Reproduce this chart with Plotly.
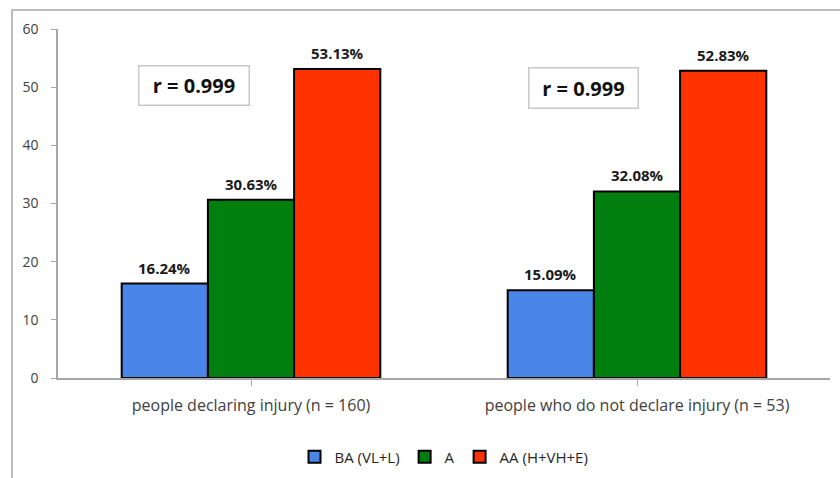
import plotly.graph_objects as go

categories = ["people declaring injury (n = 160)", "people who do not declare injury (n = 53)"]
series_names = ["BA (VL+L)", "A", "AA (H+VH+E)"]
ba_values = [16.24, 15.09]
a_values = [30.63, 32.08]
aa_values = [53.13, 52.83]
colors = ["#4A86E8", "#007F0E", "#FF3300"]
r_labels = ["r = 0.999", "r = 0.999"]

FONT = "Open Sans"
BARGAP = 0.33

fig = go.Figure()
all_vals = [ba_values, a_values, aa_values]
for name, vals, col in zip(series_names, all_vals, colors):
    fig.add_trace(go.Bar(
        name=name, x=list(range(len(categories))), y=vals,
        marker=dict(color=col, line=dict(color="black", width=2)),
    ))

# data labels placed through the axis scales (grouped bar offsets)
nser = len(all_vals)
bw = (1 - BARGAP) / nser
for s, vals in enumerate(all_vals):
    off = (s - (nser - 1) / 2) * bw
    for i, v in enumerate(vals):
        fig.add_annotation(x=i + off, y=v, xref="x", yref="y",
                           text="<b>%.2f%%</b>" % v, showarrow=False,
                           yanchor="middle", yshift=16,
                           font=dict(family=FONT, size=15, color="#1a1a1a"))

W, H = 840, 478
ml, mr, mt, mb = 58, 10, 29, 100
pw, ph = W - ml - mr, H - mt - mb

# outer chart border (top + left visible in reference)
fig.add_shape(type="rect", xref="paper", yref="paper",
              x0=(12 - ml) / pw, x1=(W + 20 - ml) / pw,
              y0=-(H + 20 - (H - mb)) / ph, y1=1 + (mt - 10) / ph,
              line=dict(color="#A6A6A6", width=1.5), layer="below")

# r boxes
box_pos = [(138, 250, 65, 106), (528, 639, 67, 109)]
for lab, (x0, x1, y0, y1) in zip(r_labels, box_pos):
    fig.add_annotation(xref="paper", yref="paper", xanchor="center", yanchor="middle",
                       x=((x0 + x1) / 2 - ml) / pw, y=1 - ((y0 + y1) / 2 - mt) / ph,
                       text="<b>" + lab + "</b>", showarrow=False,
                       font=dict(family=FONT, size=20, color="#111111"),
                       bordercolor="#C8C8C8", borderwidth=1.5, borderpad=0,
                       bgcolor="white", width=x1 - x0 - 3, height=y1 - y0 - 3)

fig.update_layout(
    width=W, height=H,
    margin=dict(l=ml, r=mr, t=mt, b=mb, autoexpand=False),
    paper_bgcolor="white", plot_bgcolor="white",
    barmode="group", bargap=BARGAP, bargroupgap=0,
    font=dict(family=FONT, size=14, color="#404040"),
    showlegend=True,
    legend=dict(orientation="h", x=0.5, xanchor="center", y=-79 / ph, yanchor="middle",
                font=dict(family=FONT, size=15, color="#262626"),
                bgcolor="rgba(0,0,0,0)", tracegroupgap=0),
    xaxis=dict(showline=True, linecolor="#A6A6A6", linewidth=1.5,
               tickmode="array", tickvals=list(range(len(categories))), ticktext=categories,
               range=[-0.5, len(categories) - 0.5],
               ticks="outside", tickson="boundaries", ticklen=6, tickcolor="#A6A6A6",
               tickfont=dict(family=FONT, size=16, color="#404040"),
               showgrid=False, ticklabelstandoff=6),
    yaxis=dict(range=[0, 60], dtick=10, showline=True, linecolor="#A6A6A6", linewidth=1.5,
               ticks="outside", ticklen=5, tickcolor="#A6A6A6",
               tickfont=dict(family=FONT, size=14, color="#404040"),
               showgrid=False, zeroline=False, ticklabelstandoff=10),
)

fig.write_html("out.html")
